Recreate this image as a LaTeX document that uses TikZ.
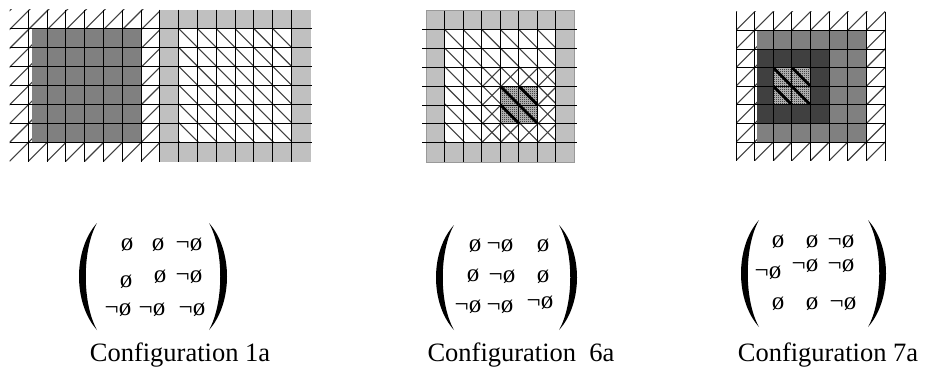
\documentclass[tikz,border=0pt]{standalone}
\usepackage{fontspec}
\setmainfont{Liberation Serif}
\usetikzlibrary{patterns}
\pgfdeclarepatternformonly{finechk}{\pgfpointorigin}{\pgfpoint{2pt}{2pt}}{\pgfpoint{2pt}{2pt}}{%
  \pgfpathrectangle{\pgfpointorigin}{\pgfpoint{1pt}{1pt}}%
  \pgfpathrectangle{\pgfpoint{1pt}{1pt}}{\pgfpoint{1pt}{1pt}}%
  \pgfusepath{fill}}
\definecolor{lgray}{HTML}{C0C0C0}
\definecolor{mgray}{HTML}{808080}
\definecolor{dgray}{HTML}{404040}
\tikzset{
  gridline/.style={black, line width=0.9pt},
  hatchline/.style={black!75, line width=1.1pt},
  thickhatch/.style={black, line width=2.8pt},
  entry/.style={font=\fontsize{25}{25}\selectfont, inner sep=0pt, anchor=base},
  caption/.style={font=\fontsize{26.5}{30}\selectfont, inner sep=0pt, anchor=base},
}
% "/" hatch: x1,y1 (top-left), x2,y2 (bottom-right), x origin, spacing
\newcommand{\HatchNE}[6]{%
  \begin{scope}
    \clip (#1,#2) rectangle (#3,#4);
    \foreach \k in {-12,...,12}{\draw[hatchline] ({#5+\k*#6},#4) -- ++(220,-220);}
  \end{scope}}
% "\" hatch
\newcommand{\HatchNW}[7]{%
  \begin{scope}
    \clip (#1,#2) rectangle (#3,#4);
    \foreach \k in {-12,...,12}{\draw[#7] ({#5+\k*#6},#2) -- ++(220,220);}
  \end{scope}}
\newcommand{\VLines}[5]{\foreach \i in {#5}{\draw[gridline] ({#1+\i*#2},#3) -- ({#1+\i*#2},#4);}}
\newcommand{\HLines}[5]{\foreach \j in {#5}{\draw[gridline] (#3,{#1+\j*#2}) -- (#4,{#1+\j*#2});}}
\newcommand{\MyLP}[3]{\fill[black] (#1,#2) .. controls ({#1-24},{#2+0.25*(#3-#2)}) and ({#1-24},{#3-0.25*(#3-#2)}) .. (#1,#3)
  .. controls ({#1-15},{#3-0.25*(#3-#2)}) and ({#1-15},{#2+0.25*(#3-#2)}) .. (#1,#2) -- cycle;}
\newcommand{\MyRP}[3]{\fill[black] (#1,#2) .. controls ({#1+24},{#2+0.25*(#3-#2)}) and ({#1+24},{#3-0.25*(#3-#2)}) .. (#1,#3)
  .. controls ({#1+15},{#3-0.25*(#3-#2)}) and ({#1+15},{#2+0.25*(#3-#2)}) .. (#1,#2) -- cycle;}
\begin{document}
\begin{tikzpicture}[x=1pt,y=-1pt]
\useasboundingbox (0,0) rectangle (926,372);
\fill[white] (0,0) rectangle (926,372);

% ---------------- Grid 1 ----------------
\HatchNE{9.5}{9.7}{159.9}{161.3}{9.5}{18.8}
\fill[mgray] (31.5,28.65) rectangle (141.1,142.35);
\fill[lgray] (159.9,9.7) rectangle (310.5,162);
\fill[white] (178.7,28.65) rectangle (291.5,142.35);
\HatchNW{178.7}{28.65}{291.5}{142.35}{178.7}{18.8}{hatchline}
\VLines{9.5}{18.8}{9.7}{162}{1,...,15}
\HLines{9.7}{18.95}{9.5}{311.5}{1,...,7}

% ---------------- Grid 2 ----------------
\fill[lgray] (426,10.5) rectangle (574.4,162);
\draw[gray!80, line width=0.5pt] (426,10.5) rectangle (574.4,162);
\fill[white] (444.55,29.4) rectangle (555.85,142.8);
\HatchNW{444.55}{29.4}{555.85}{142.8}{444.55}{18.55}{hatchline}
\HatchNE{481.65}{67.2}{555.85}{142.8}{481.65}{18.55}
\fill[gray!45] (500.2,86.1) rectangle (537.3,123.9);
\fill[pattern=finechk, pattern color=black] (500.2,86.1) rectangle (537.3,123.9);
\HatchNW{500.2}{86.1}{537.3}{123.9}{500.2}{18.55}{thickhatch}
\VLines{426}{18.55}{10.5}{162}{1,...,7}
\HLines{10.5}{18.9}{422}{576.5}{1,...,7}

% ---------------- Grid 3 ----------------
\HatchNE{736}{11.7}{885}{160.7}{736}{18.63}
\fill[mgray] (757,30.3) rectangle (866.4,141.5);
\fill[dgray] (757,48.9) rectangle (829.2,123.2);
\fill[gray!45] (773.3,67.6) rectangle (810.5,104.9);
\fill[pattern=finechk, pattern color=black] (773.3,67.6) rectangle (810.5,104.9);
\HatchNW{773.3}{67.6}{810.5}{104.9}{773.3}{18.63}{thickhatch}
\VLines{736}{18.63}{11.7}{160.7}{0,...,8}
\HLines{11.7}{18.63}{736}{885}{1,...,7}

% ---------------- Matrix 1 ----------------
\MyLP{97}{223}{330}
\MyRP{209}{223}{330}
\node[entry] (a11) at (127,250.5) {ø};
\node[entry] (a12) at (158,250.5) {ø};
\node[entry] (a13) at (189,250.5) {¬ø};
\node[entry] (a21) at (126,287.5) {ø};
\node[entry] (a22) at (160,282.5) {ø};
\node[entry] (a23) at (189,282.5) {¬ø};
\node[entry] (a31) at (118,315.5) {¬ø};
\node[entry] (a32) at (152,315.5) {¬ø};
\node[entry] (a33) at (192,315.5) {¬ø};
\node[caption] (c1) at (180,361) {Configuration 1a};

% ---------------- Matrix 2 ----------------
\MyLP{454}{225}{330}
\MyRP{559}{225}{330}
\node[entry] (b11) at (475,251.5) {ø};
\node[entry] (b12) at (500,251.5) {¬ø};
\node[entry] (b13) at (543,251.5) {ø};
\node[entry] (b21) at (473,281.5) {ø};
\node[entry] (b22) at (502,282.5) {¬ø};
\node[entry] (b23) at (543,282.5) {ø};
\node[entry] (b31) at (468,312.5) {¬ø};
\node[entry] (b32) at (500,312.5) {¬ø};
\node[entry] (b33) at (540,308.5) {¬ø};
\node[caption] (c2) at (521,361) {Configuration\ \ 6a};

% ---------------- Matrix 3 ----------------
\MyLP{759}{220}{327}
\MyRP{868}{220}{327}
\node[entry] (d11) at (778,247.5) {ø};
\node[entry] (d12) at (812,247.5) {ø};
\node[entry] (d13) at (841,247.5) {¬ø};
\node[entry] (d21) at (768,278.5) {¬ø};
\node[entry] (d22) at (805,271.5) {¬ø};
\node[entry] (d23) at (841,271.5) {¬ø};
\node[entry] (d31) at (778,309.5) {ø};
\node[entry] (d32) at (812,309.5) {ø};
\node[entry] (d33) at (843,309.5) {¬ø};
\node[caption] (c3) at (828,361) {Configuration 7a};
\end{tikzpicture}
\end{document}
